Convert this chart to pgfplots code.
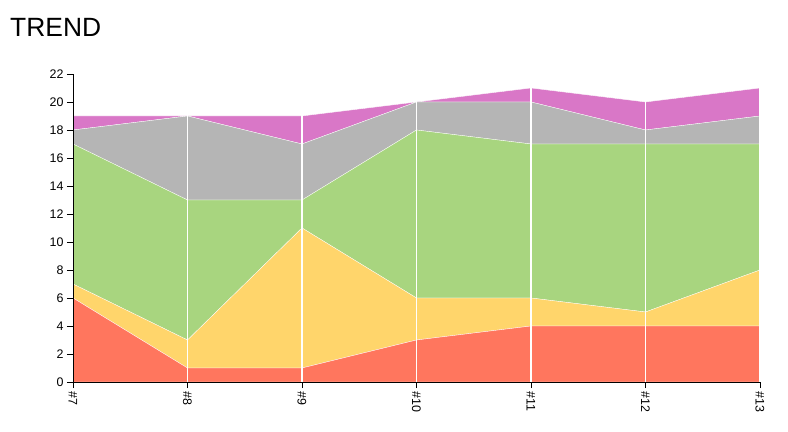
\documentclass[border=0pt]{standalone}
\usepackage{pgfplots}
\pgfplotsset{compat=1.18}
\usepackage{fontspec}
\setmainfont{Liberation Sans}
\definecolor{cred}{RGB}{255,118,94}
\definecolor{cyel}{RGB}{255,213,107}
\definecolor{cgrn}{RGB}{168,213,127}
\definecolor{cgry}{RGB}{181,181,181}
\definecolor{cpnk}{RGB}{217,119,199}
\begin{document}
\begin{tikzpicture}[x=1bp,y=1bp]
\useasboundingbox (-73bp,-50bp) rectangle (715bp,382bp);
\node[anchor=west,inner sep=0pt,font=\fontsize{26.5}{29}\selectfont] at (-63bp,355bp) {TREND};
\begin{axis}[
  at={(0,0)}, anchor=origin,
  scale only axis, width=687bp, height=308bp,
  xmin=0, xmax=6, ymin=0, ymax=22,
  stack plots=y,
  axis x line=bottom, axis y line=left,
  axis line style={-, black, line width=1pt},
  xtick={0,1,2,3,4,5,6},
  xticklabels={\#7,\#8,\#9,\#10,\#11,\#12,\#13},
  ytick={0,2,...,22},
  tick style={black, line width=0.8pt},
  major tick length=6bp,
  tick align=outside,
  xticklabel style={rotate=-90, anchor=west, font=\fontsize{12.5}{13}\selectfont},
  yticklabel style={font=\fontsize{12.5}{13}\selectfont},
  /pgf/number format/assume math mode=true,
  xmajorgrids, grid style={white, line width=1.5pt},
  axis on top,
  clip=false,
]
\addplot[fill=cred, draw=white, line width=0.3pt] coordinates {(0,6) (1,1) (2,1) (3,3) (4,4) (5,4) (6,4)} \closedcycle;
\addplot[fill=cyel, draw=white, line width=0.3pt] coordinates {(0,1) (1,2) (2,10) (3,3) (4,2) (5,1) (6,4)} \closedcycle;
\addplot[fill=cgrn, draw=white, line width=0.3pt] coordinates {(0,10) (1,10) (2,2) (3,12) (4,11) (5,12) (6,9)} \closedcycle;
\addplot[fill=cgry, draw=white, line width=0.3pt] coordinates {(0,1) (1,6) (2,4) (3,2) (4,3) (5,1) (6,2)} \closedcycle;
\addplot[fill=cpnk, draw=white, line width=0.3pt] coordinates {(0,1) (1,0) (2,2) (3,0) (4,1) (5,2) (6,2)} \closedcycle;
\end{axis}
\end{tikzpicture}
\end{document}
